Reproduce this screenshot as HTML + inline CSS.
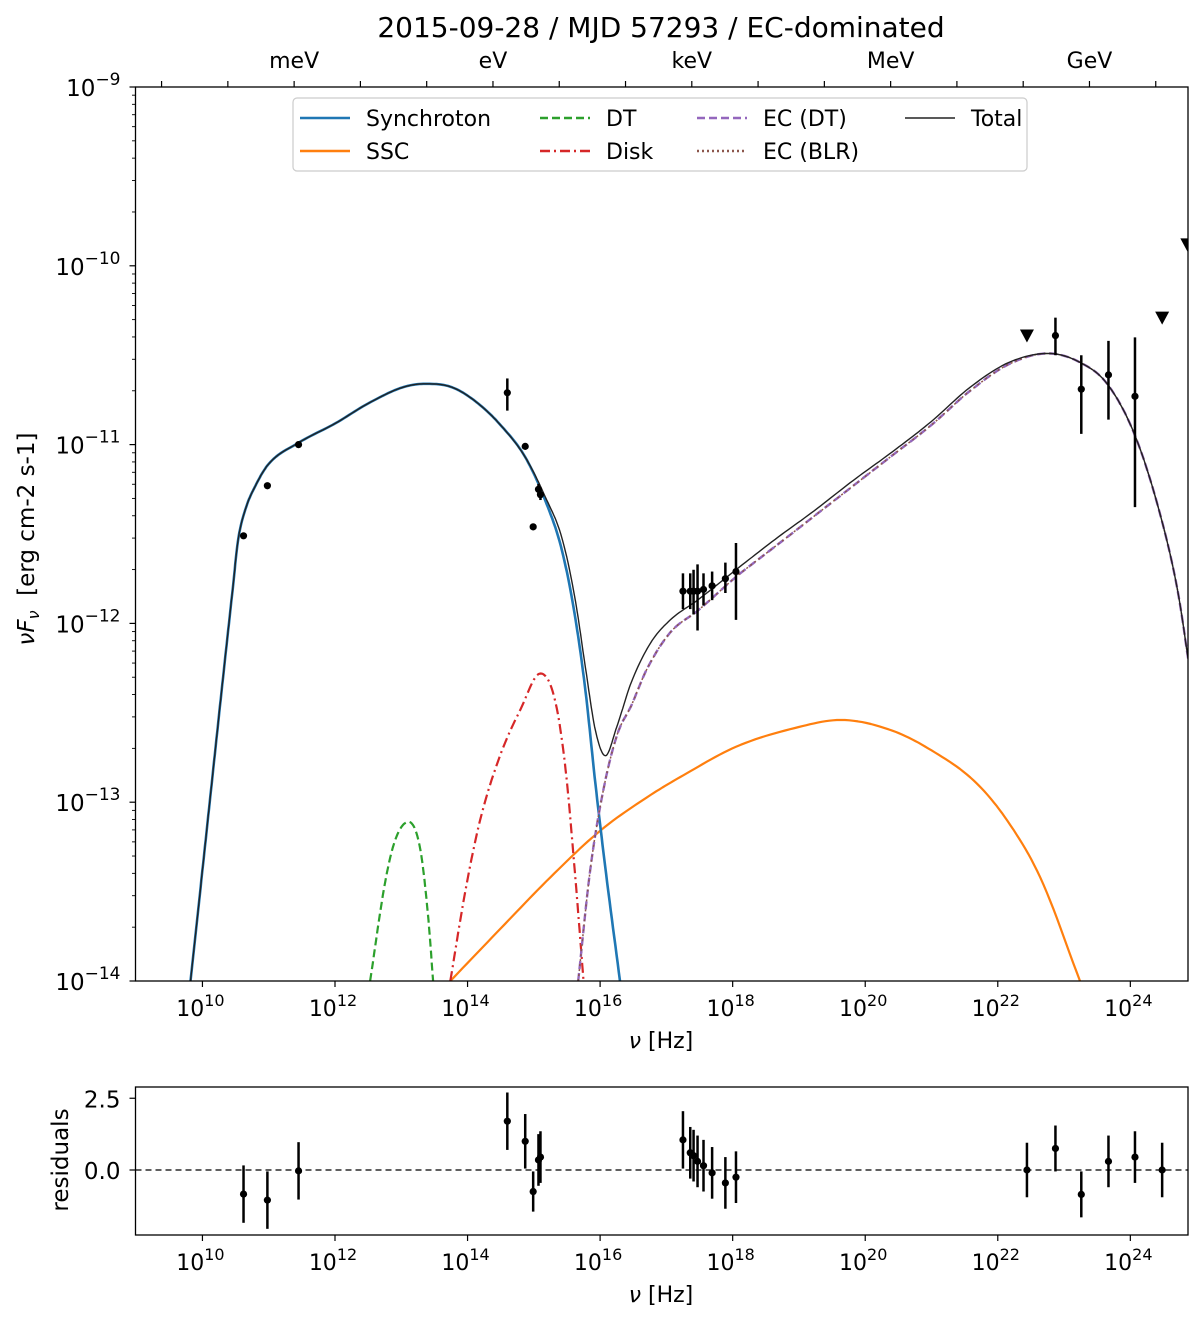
<!DOCTYPE html>
<html><head><meta charset="utf-8">
<style>
html,body{margin:0;padding:0;background:#fff;}
svg{display:block;font-family:"DejaVu Sans","Liberation Sans",sans-serif;}
</style></head>
<body>
<svg id="chart" width="1200" height="1322" viewBox="0 0 1200 1322" xmlns="http://www.w3.org/2000/svg">
<text x="661" y="37" font-size="28" text-anchor="middle">2015-09-28 / MJD 57293 / EC-dominated</text>
<g id="main"></g>
<g id="resid"></g>
</svg>
<script>
// ---- data (log10 nu [Hz], log10 nuFnu) ----
const syncX=[9.82,10.0,10.15,10.30,10.45,10.54,10.65,10.80,10.995,11.45,12.01,12.50,13.02,13.36,13.77,14.16,14.52,14.87,15.17,15.43,15.63,15.78,15.93,16.09,16.30];
const syncY=[-14,-13.38,-12.86,-12.34,-11.83,-11.53,-11.36,-11.23,-11.11,-10.99,-10.88,-10.77,-10.68,-10.66,-10.68,-10.77,-10.90,-11.07,-11.31,-11.60,-11.98,-12.38,-12.90,-13.40,-14];
const totX=[9.82,10.0,10.15,10.30,10.45,10.54,10.65,10.80,10.995,11.45,12.01,12.50,13.02,13.36,13.77,14.16,14.52,14.87,15.17,15.43,15.63,15.78,15.93,16.08,16.25,16.47,16.76,17.06,17.47,18.05,18.64,19.23,19.82,20.41,21.00,21.58,22.17,22.76,23.24,23.65,24.06,24.42,24.71,24.89];
const totY=[-14,-13.38,-12.86,-12.34,-11.83,-11.53,-11.36,-11.23,-11.11,-10.99,-10.88,-10.77,-10.68,-10.66,-10.68,-10.77,-10.90,-11.07,-11.29,-11.53,-11.88,-12.25,-12.60,-12.74,-12.58,-12.33,-12.11,-11.98,-11.87,-11.70,-11.53,-11.37,-11.20,-11.04,-10.87,-10.68,-10.54,-10.49,-10.54,-10.66,-10.94,-11.35,-11.81,-12.24];
const ecX=[15.67,15.85,16.05,16.26,16.47,16.70,17.06,17.47,18.05,18.64,19.23,19.82,20.41,21.00,21.58,22.17,22.76,23.24,23.65,24.06,24.42,24.71,24.89];
const ecY=[-14,-13.38,-12.93,-12.62,-12.46,-12.26,-12.05,-11.93,-11.74,-11.57,-11.40,-11.23,-11.06,-10.89,-10.70,-10.55,-10.49,-10.54,-10.66,-10.94,-11.35,-11.81,-12.24];
const dtX=[12.53,12.76,12.91,13.11,13.29,13.41,13.48];
const dtY=[-14,-13.44,-13.21,-13.11,-13.27,-13.66,-14];
const diskX=[13.74,13.97,14.19,14.49,14.80,15.10,15.32,15.48,15.63,15.75];
const diskY=[-14,-13.49,-13.10,-12.74,-12.48,-12.28,-12.43,-12.82,-13.44,-14];
const sscX=[13.74,14.49,15.25,16.00,16.76,17.30,18.05,18.94,19.63,20.41,21.00,21.64,22.10,22.64,23.24];
const sscY=[-14,-13.71,-13.42,-13.16,-12.96,-12.84,-12.69,-12.585,-12.54,-12.60,-12.71,-12.88,-13.08,-13.42,-14];
const ptX=[10.62,10.98,11.45,14.60,14.87,14.99,15.07,15.10,17.25,17.36,17.41,17.47,17.56,17.69,17.89,18.05,22.87,23.26,23.67,24.07];
const ptY=[-11.51,-11.23,-11.0,-10.71,-11.01,-11.46,-11.25,-11.28,-11.82,-11.82,-11.82,-11.82,-11.81,-11.79,-11.75,-11.71,-10.39,-10.69,-10.61,-10.73];
const ptLo=[-11.51,-11.23,-11.0,-10.81,-11.01,-11.46,-11.28,-11.31,-11.92,-11.92,-11.95,-12.04,-11.90,-11.87,-11.83,-11.98,-10.50,-10.94,-10.86,-11.35];
const ptHi=[-11.51,-11.23,-11.0,-10.63,-11.01,-11.46,-11.22,-11.25,-11.72,-11.72,-11.70,-11.67,-11.72,-11.71,-11.66,-11.55,-10.29,-10.50,-10.42,-10.40];
const ulX=[22.44,24.48,24.86];
const ulY=[-10.39,-10.29,-9.88];
const resX=[10.62,10.98,11.45,14.60,14.87,14.99,15.07,15.10,17.25,17.36,17.41,17.47,17.56,17.69,17.89,18.05,22.44,22.87,23.26,23.67,24.07,24.48];
const resY=[-0.84,-1.05,-0.03,1.7,1.0,-0.75,0.35,0.45,1.05,0.6,0.5,0.3,0.15,-0.1,-0.45,-0.25,0.0,0.75,-0.85,0.3,0.45,0.0];
const resErr=[1.0,1.0,1.0,1.0,0.95,0.7,0.9,0.9,1.0,0.9,0.9,0.9,0.9,0.9,0.9,0.9,0.95,0.8,0.8,0.9,0.9,0.95];
const xTickLabels=[10,12,14,16,18,20,22,24];
const yTickLabels=[-9,-10,-11,-12,-13,-14];
const topLabels=["meV","eV","keV","MeV","GeV"];
const topLog=[-3,0,3,6,9];

// ---- axes ----
const L=135.5,R=1188,T=87,B=981;
const X0=8.99,X1=24.87;
const xs=v=>L+(v-X0)/(X1-X0)*(R-L);
const ys=v=>T+(-9-v)/5*(B-T);
const RT=1087,RB=1235;
const ry=v=>1170-v*28.7;
const NS="http://www.w3.org/2000/svg";
function mk(p,tag,a){const e=document.createElementNS(NS,tag);for(const k in a)e.setAttribute(k,a[k]);p.appendChild(e);return e;}
const main=document.getElementById('main'), resid=document.getElementById('resid');

// monotone cubic (Fritsch-Carlson) in data space, sampled
function monoPath(X,Y){
  const n=X.length,d=[],m=new Array(n);
  for(let i=0;i<n-1;i++)d.push((Y[i+1]-Y[i])/(X[i+1]-X[i]));
  m[0]=d[0];m[n-1]=d[n-2];
  for(let i=1;i<n-1;i++){m[i]=(d[i-1]*d[i]<=0)?0:(d[i-1]+d[i])/2;}
  for(let i=0;i<n-1;i++){
    if(d[i]===0){m[i]=0;m[i+1]=0;continue;}
    const a=m[i]/d[i],b=m[i+1]/d[i],s=a*a+b*b;
    if(s>9){const t=3/Math.sqrt(s);m[i]=t*a*d[i];m[i+1]=t*b*d[i];}
  }
  let path='';
  for(let i=0;i<n-1;i++){
    const h=X[i+1]-X[i];
    for(let k=0;k<=12;k++){
      if(i>0&&k===0)continue;
      const t=k/12,t2=t*t,t3=t2*t;
      const y=(2*t3-3*t2+1)*Y[i]+(t3-2*t2+t)*h*m[i]+(-2*t3+3*t2)*Y[i+1]+(t3-t2)*h*m[i+1];
      const x=X[i]+t*h;
      path+=(path?' L':'M')+xs(x).toFixed(1)+','+ys(y).toFixed(1);
    }
  }
  return path;
}
mk(main,'clipPath',{id:'clipm'}).appendChild(document.createElementNS(NS,'rect'));
const cr=document.querySelector('#clipm rect');cr.setAttribute('x',L);cr.setAttribute('y',T);cr.setAttribute('width',R-L);cr.setAttribute('height',B-T);
const curves=mk(main,'g',{'clip-path':'url(#clipm)'});


function curve(X,Y,col,w,dash,name){
  const p=mk(curves,'path',{d:monoPath(X,Y),fill:'none',stroke:col,'stroke-width':w,'stroke-dasharray':dash||'none','stroke-linejoin':'round'});
  
  
}
curve(sscX,sscY,'#ff7f0e',2.2,null,'ssc-curve');
curve(dtX,dtY,'#2ca02c',2.2,'8,4','dt-curve');
curve(diskX,diskY,'#d62728',2.2,'10,4,2,4','disk-curve');
curve(syncX,syncY,'#1f77b4',2.6,null,'synchrotron-curve');
curve(ecX,ecY,'#9467bd',2.4,'8,4','ec-dt-curve');
curve(ecX,ecY,'#8c564b',1.5,'2,3','ec-blr-curve');
curve(totX,totY,'#222',1.4,null,'total-curve');

// data points
for(let i=0;i<ptX.length;i++){
  const x=xs(ptX[i]);
  if(ptHi[i]!==ptLo[i]){
    const l=mk(main,'line',{x1:x,x2:x,y1:ys(ptLo[i]),y2:ys(ptHi[i]),stroke:'#000','stroke-width':2.5});
    
    
  }
  const c=mk(main,'circle',{cx:x,cy:ys(ptY[i]),r:3.6,fill:'#000'});
  
  
}
for(let i=0;i<ulX.length;i++){
  const x=xs(ulX[i]),y=ys(ulY[i]);
  const t=mk(main,'path',{d:`M${x-7},${y-6} L${x+7},${y-6} L${x},${y+7} Z`,fill:'#000','clip-path':'url(#clipm)'});
  
  
}
// frame
const fr=mk(main,'rect',{x:L,y:T,width:R-L,height:B-T,fill:'none',stroke:'#000','stroke-width':1.3});


// x ticks
xTickLabels.forEach(v=>{
  const x=xs(v);
  [[B,B+6,main],[RB,RB+6,resid]].forEach(([a,b,g])=>{
    mk(g,'line',{x1:x,x2:x,y1:a,y2:b,stroke:'#000','stroke-width':1.2});
    const t=mk(g,'text',{x:x-2,y:b+29,'font-size':22,'text-anchor':'middle'});
    
    
    t.innerHTML=`10<tspan dy="-10" font-size="16">${v}</tspan>`;
  });
});
// y ticks
yTickLabels.forEach(v=>{
  const y=ys(v);
  mk(main,'line',{x1:L-6,x2:L,y1:y,y2:y,stroke:'#000','stroke-width':1.2});
  const t=mk(main,'text',{x:L-15,y:y+9,'font-size':23,'text-anchor':'end'});
  
  
  t.innerHTML=`10<tspan dy="-11" font-size="17">\u2212${-v}</tspan>`;
  if(v>-14){for(let m=2;m<10;m++){const yy=ys(v-1+Math.log10(m));mk(main,'line',{x1:L-3.5,x2:L,y1:yy,y2:yy,stroke:'#000','stroke-width':0.9});}}
});
// top axis
for(let e=-5;e<=10;e++){
  const x=xs(e+14.3834);
  if(x<L||x>R)continue;
  mk(main,'line',{x1:x,x2:x,y1:T-6,y2:T,stroke:'#000','stroke-width':1.2});
}
topLabels.forEach((s,i)=>{
  const t=mk(main,'text',{x:xs(topLog[i]+14.3834),y:68,'font-size':22,'text-anchor':'middle'});
  
  
  t.textContent=s;
});
// axis labels
let t=mk(main,'text',{x:661,y:1048,'font-size':22,'text-anchor':'middle'});


t.innerHTML='<tspan font-style="italic">ν</tspan> [Hz]';
t=mk(main,'text',{x:0,y:0,'font-size':23,'text-anchor':'middle',transform:'translate(34,539) rotate(-90)'});


t.setAttribute('xml:space','preserve');
t.innerHTML='<tspan font-style="italic">νF</tspan><tspan font-style="italic" font-size="16" dy="5">ν</tspan><tspan dy="-5">\u00a0\u00a0[erg cm-2 s-1]</tspan>';

// legend
const lg=mk(main,'g',{});


mk(lg,'rect',{x:293,y:98,width:734,height:73,rx:4,fill:'#fff',stroke:'#ccc','stroke-width':1.2,'fill-opacity':0.8});
const leg=[['Synchroton','#1f77b4',null,300,118],['SSC','#ff7f0e',null,300,151],['DT','#2ca02c','8,4',540,118],['Disk','#d62728','10,4,2,4',540,151],['EC (DT)','#9467bd','8,4',697,118],['EC (BLR)','#8c564b','2,3',697,151],['Total','#222',null,905,118]];
leg.forEach(([n,c,d,x,y])=>{
  const g=mk(lg,'g',{});
  
  
  mk(g,'line',{x1:x,x2:x+50,y1:y,y2:y,stroke:c,'stroke-width':n==='Total'?1.5:2.4,'stroke-dasharray':d||'none'});
  const tt=mk(g,'text',{x:x+66,y:y+8,'font-size':22});tt.textContent=n;
});

// residuals panel
const rf=mk(resid,'rect',{x:L,y:RT,width:R-L,height:RB-RT,fill:'none',stroke:'#000','stroke-width':1.3});


const zl=mk(resid,'line',{x1:L,x2:R,y1:ry(0),y2:ry(0),stroke:'#000','stroke-width':1.3,'stroke-dasharray':'6,4'});


[[2.5,'2.5'],[0,'0.0']].forEach(([v,s])=>{
  mk(resid,'line',{x1:L-6,x2:L,y1:ry(v),y2:ry(v),stroke:'#000','stroke-width':1.2});
  const tt=mk(resid,'text',{x:L-15,y:ry(v)+9,'font-size':23,'text-anchor':'end'});
  
  
  tt.textContent=s;
});
for(let i=0;i<resX.length;i++){
  const x=xs(resX[i]);
  const l=mk(resid,'line',{x1:x,x2:x,y1:ry(resY[i]-resErr[i]),y2:ry(resY[i]+resErr[i]),stroke:'#000','stroke-width':2.5});
  
  
  const c=mk(resid,'circle',{cx:x,cy:ry(resY[i]),r:3.6,fill:'#000'});
  
  
}
t=mk(resid,'text',{x:661,y:1302,'font-size':22,'text-anchor':'middle'});


t.innerHTML='<tspan font-style="italic">ν</tspan> [Hz]';
t=mk(resid,'text',{x:0,y:0,'font-size':23,'text-anchor':'middle',transform:'translate(68,1160) rotate(-90)'});


t.textContent='residuals';
</script>
</body></html>
